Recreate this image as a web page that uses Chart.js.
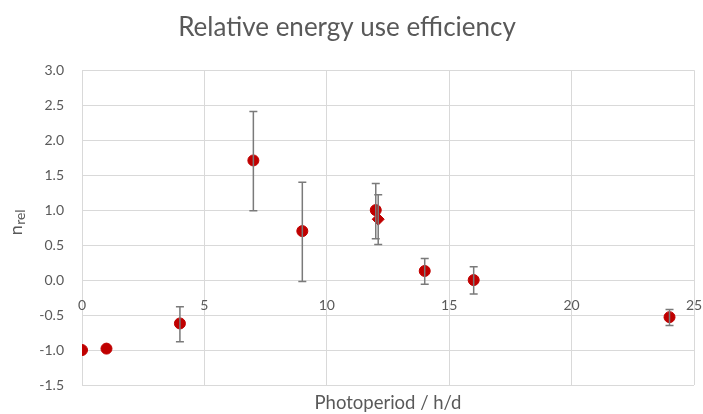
<!DOCTYPE html>
<html>
<head>
<meta charset="utf-8">
<script src="https://cdn.jsdelivr.net/npm/chart.js@4.4.1/dist/chart.umd.min.js"></script>
<style>
html,body{margin:0;padding:0;background:#fff;}
#wrap{width:703px;height:414px;}
</style>
</head>
<body>
<div id="wrap"><canvas id="c" width="703" height="414"></canvas></div>
<script>
// Data
const photoperiod = [0, 1, 4, 7, 9, 12, 14, 16, 24];
const efficiency  = [-1.00, -0.98, -0.62, 1.71, 0.70, 1.00, 0.13, 0.00, -0.53];
const errUp       = [0, 0, 0.24, 0.70, 0.70, 0.38, 0.18, 0.19, 0.11];
const errDown     = [0, 0, 0.26, 0.72, 0.72, 0.41, 0.19, 0.20, 0.12];

const photoperiod2 = [12.1];
const efficiency2  = [0.87];
const errUp2       = [0.35];
const errDown2     = [0.36];

const xTicks = [0, 5, 10, 15, 20, 25];
const yTicks = [-1.5, -1.0, -0.5, 0.0, 0.5, 1.0, 1.5, 2.0, 2.5, 3.0];

const titleText = 'Relative energy use efficiency';
const xTitle = 'Photoperiod / h/d';

const FONT = 'Lato, "Open Sans", sans-serif';
const TXT = '#595959';
const GRID = '#d9d9d9';
const RED = '#C00000';

const errorBars = {
  id: 'errorBars',
  afterDatasetsDraw(chart) {
    const ctx = chart.ctx, xs = chart.scales.x, ys = chart.scales.y;
    const sets = [[photoperiod, efficiency, errUp, errDown], [photoperiod2, efficiency2, errUp2, errDown2]];
    ctx.save();
    ctx.strokeStyle = '#7a7a7a';
    ctx.lineWidth = 1.5;
    sets.forEach(([xa, ya, up, dn]) => {
      xa.forEach((xv, i) => {
        if (!up[i] && !dn[i]) return;
        const px = xs.getPixelForValue(xv);
        const top = ys.getPixelForValue(ya[i] + up[i]);
        const bot = ys.getPixelForValue(ya[i] - dn[i]);
        ctx.beginPath();
        ctx.moveTo(px, top); ctx.lineTo(px, bot);
        ctx.moveTo(px - 4, top); ctx.lineTo(px + 4, top);
        ctx.moveTo(px - 4, bot); ctx.lineTo(px + 4, bot);
        ctx.stroke();
      });
    });
    ctx.restore();
  }
};

const yTitlePlugin = {
  id: 'yTitle',
  afterDraw(chart) {
    const ctx = chart.ctx;
    const ys = chart.scales.y;
    const cy = (ys.top + ys.bottom) / 2;
    ctx.save();
    ctx.translate(18, cy);
    ctx.rotate(-Math.PI / 2);
    ctx.fillStyle = TXT;
    ctx.textBaseline = 'alphabetic';
    ctx.font = '18px ' + FONT;
    const wN = ctx.measureText('n').width;
    ctx.font = '14px ' + FONT;
    const wS = ctx.measureText('rel').width;
    const start = -(wN + wS) / 2 + 5;
    ctx.font = '18px ' + FONT;
    ctx.fillText('n', start, 4);
    ctx.font = '14px ' + FONT;
    ctx.fillText('rel', start + wN + 0.5, 7);
    ctx.restore();
  }
};

new Chart(document.getElementById('c'), {
  type: 'scatter',
  data: {
    datasets: [
      {
        label: 'circles',
        data: photoperiod.map((x, i) => ({x, y: efficiency[i]})),
        backgroundColor: RED, borderColor: RED,
        pointRadius: 5.5, pointHoverRadius: 5.5, pointStyle: 'circle'
      },
      {
        label: 'diamond',
        data: photoperiod2.map((x, i) => ({x, y: efficiency2[i]})),
        backgroundColor: RED, borderColor: RED,
        pointRadius: 6, pointHoverRadius: 6, pointStyle: 'rectRot'
      }
    ]
  },
  options: {
    responsive: false,
    animation: false,
    devicePixelRatio: 1,
    layout: { padding: { left: 0, right: 9, top: 0, bottom: 0 } },
    plugins: {
      legend: { display: false },
      tooltip: { enabled: false },
      title: {
        display: true, text: titleText, color: TXT,
        font: { family: FONT, size: 26, weight: 'normal' },
        padding: { top: 12, bottom: 27 }
      }
    },
    scales: {
      x: {
        type: 'linear', min: 0, max: 25,
        position: { y: 0 },
        afterBuildTicks: s => { s.ticks = xTicks.map(v => ({value: v})); },
        ticks: { color: TXT, font: { family: FONT, size: 14 }, padding: 17, maxRotation: 0 },
        grid: { color: GRID, lineWidth: 1, drawTicks: false },
        border: { display: false },
        afterFit: s => { s.paddingLeft = 0; s.paddingRight = 0; }
      },
      x2: {
        type: 'linear', position: 'bottom', display: true,
        ticks: { display: false },
        grid: { display: false, drawTicks: false },
        border: { display: false },
        title: { display: true, text: xTitle, color: TXT, font: { family: FONT, size: 18.5 }, padding: { top: 7, bottom: 0 } },
        afterFit: s => { s.height = 29; s.paddingLeft = 0; s.paddingRight = 0; }
      },
      y: {
        type: 'linear', min: -1.5, max: 3,
        afterBuildTicks: s => { s.ticks = yTicks.map(v => ({value: v})); },
        ticks: { color: TXT, font: { family: FONT, size: 14 }, padding: 18, callback: v => v.toFixed(1) },
        grid: { color: GRID, lineWidth: 1, drawTicks: false },
        border: { display: false },
        afterFit: s => { s.width = 82; s.paddingTop = 0; s.paddingBottom = 0; }
      }
    }
  },
  plugins: [errorBars, yTitlePlugin]
});
</script>
</body>
</html>
